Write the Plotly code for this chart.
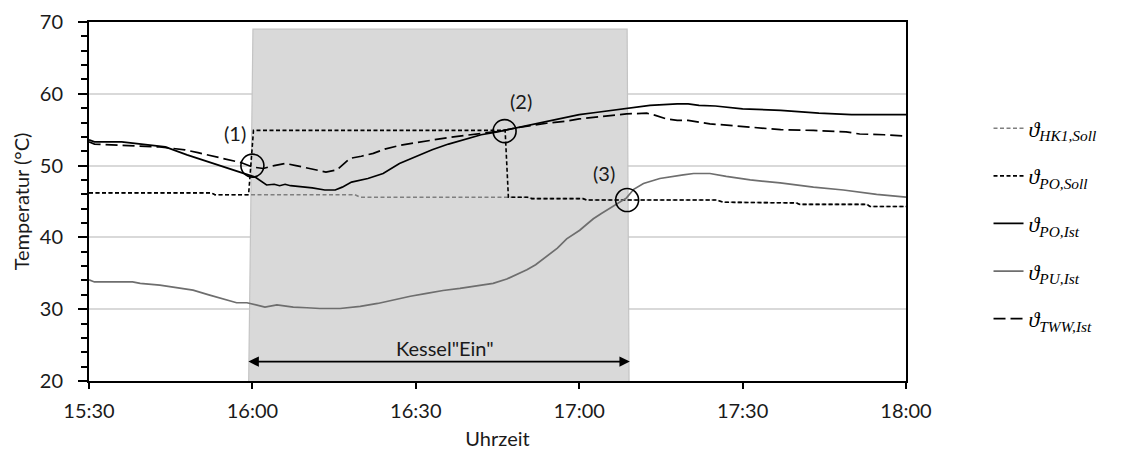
import pandas as pd
import plotly.graph_objects as go

# ---------------- data (minutes after 15:30, temperature in °C) ----------------
base = pd.Timestamp("2000-01-01 15:30")

# Kessel "Ein" (burner on) – area series, 0 = off, 69 = on
kessel_min = [0, 29.0, 30.1, 98.8, 99.3, 150]
kessel_val = [0, 0, 69, 69, 0, 0]

hk1_soll_min = [0, 22.5, 23.1, 48.8, 49.8, 77.0, 80.5, 81.3, 90.7, 91.4, 115.2, 116.5,
                129.9, 130.5, 142.8, 143.4, 150]
hk1_soll_val = [46.2, 46.2, 45.95, 45.95, 45.6, 45.6, 45.6, 45.4, 45.4, 45.2, 45.2, 44.9,
                44.8, 44.6, 44.6, 44.3, 44.3]

po_soll_min = [0, 22.5, 23.1, 29.3, 30.2, 76.4, 77.0, 80.5, 81.3, 90.7, 91.4, 115.2, 116.5,
               129.9, 130.5, 142.8, 143.4, 150]
po_soll_val = [46.2, 46.2, 45.95, 45.95, 54.9, 54.9, 45.6, 45.6, 45.4, 45.4, 45.2, 45.2, 44.9,
               44.8, 44.6, 44.6, 44.3, 44.3]

po_ist_min = [0, 1, 6, 10, 14, 18, 22, 26, 27.4, 29.3, 30.5, 32.6, 34, 35, 36, 37, 39, 41,
              43.3, 45.2, 46.5, 48.2, 51.2, 54, 57, 60, 63, 66, 69, 72, 75, 78, 81, 84, 87,
              90, 93, 96, 99, 103, 108, 110, 112, 115, 120, 127, 134, 140, 150]
po_ist_val = [53.6, 53.3, 53.3, 53.0, 52.6, 51.5, 50.5, 49.5, 49.1, 48.65, 48.4, 47.3, 47.4,
              47.2, 47.4, 47.2, 47.1, 46.9, 46.6, 46.6, 47.0, 47.7, 48.2, 48.9, 50.3, 51.3,
              52.2, 53.0, 53.7, 54.3, 54.7, 55.2, 55.7, 56.2, 56.6, 57.1, 57.4, 57.7, 57.9,
              58.4, 58.6, 58.6, 58.4, 58.3, 57.9, 57.7, 57.3, 57.1, 57.1]

pu_ist_min = [0, 1, 8, 9.4, 13, 16, 19.1, 22, 24.7, 27.1, 29, 32.3, 34.5, 37.5, 40, 42.4,
              46.1, 49.8, 53, 55.9, 59, 62, 65, 68.1, 71, 74.2, 76.7, 78.5, 80.4, 82, 84, 86,
              87.7, 90.1, 91.5, 92.6, 94, 96.3, 98.7, 100, 101.8, 104.8, 107, 109.1, 111,
              114, 117, 121.4, 126.9, 133, 138.5, 144.6, 150]
pu_ist_val = [34.1, 33.8, 33.8, 33.6, 33.35, 33.0, 32.65, 32.0, 31.4, 30.9, 30.9, 30.3, 30.6,
              30.3, 30.2, 30.1, 30.1, 30.4, 30.8, 31.3, 31.8, 32.2, 32.6, 32.9, 33.2, 33.6,
              34.2, 34.8, 35.5, 36.2, 37.4, 38.5, 39.8, 41.0, 41.9, 42.6, 43.3, 44.4, 45.5,
              46.7, 47.5, 48.2, 48.5, 48.7, 48.9, 48.9, 48.5, 48.0, 47.6, 47.0, 46.6, 46.0,
              45.6]

tww_ist_min = [0, 1, 13, 17.6, 20, 23.7, 26.5, 28, 30, 32, 34, 36, 38, 40, 43.5, 45.5, 47.9,
               50, 52.2, 54.3, 57, 60, 63, 66, 69, 72, 75.5, 78, 81.6, 84, 87.7, 90, 93.8, 96,
               98.7, 102.4, 104, 106, 108, 110, 114, 116, 121, 127, 133, 139, 141.5, 146, 150]
tww_ist_val = [53.3, 53.0, 52.6, 52.2, 51.8, 51.2, 50.7, 50.4, 49.8, 49.6, 50.0, 50.3, 50.0,
               49.7, 49.1, 49.4, 51.0, 51.3, 51.7, 52.3, 52.8, 53.2, 53.6, 53.9, 54.2, 54.5,
               54.8, 55.2, 55.6, 55.9, 56.2, 56.5, 56.8, 57.0, 57.2, 57.3, 57.0, 56.5, 56.3,
               56.3, 55.8, 55.7, 55.4, 55.0, 54.9, 54.7, 54.4, 54.3, 54.1]

# marked events (1), (2), (3)
event_min = [30.0, 76.3, 98.8]
event_val = [50.0, 54.8, 45.2]
event_lbl = ["(1)", "(2)", "(3)"]

tick_lbl = ["15:30", "16:00", "16:30", "17:00", "17:30", "18:00"]


def at(mins):
    return [base + pd.Timedelta(minutes=m) for m in mins]


FONT = "Lato, Open Sans, sans-serif"
TXT = "#1a1a1a"
fig = go.Figure()

# burner-on shading
fig.add_trace(go.Scatter(
    x=at(kessel_min), y=kessel_val, mode="lines", fill="tozeroy",
    fillcolor="#d9d9d9", line=dict(color="#c4c4c4", width=1.2),
    showlegend=False, hoverinfo="skip"))

series = [
    ("<i>ϑ</i><sub><i>HK1,Soll</i></sub>", hk1_soll_min, hk1_soll_val,
     dict(color="#7f7f7f", width=1.6, dash="4px,2.5px")),
    ("<i>ϑ</i><sub><i>PO,Soll</i></sub>", po_soll_min, po_soll_val,
     dict(color="#000000", width=1.6, dash="4px,2.5px")),
    ("<i>ϑ</i><sub><i>PO,Ist</i></sub>", po_ist_min, po_ist_val,
     dict(color="#000000", width=1.7)),
    ("<i>ϑ</i><sub><i>PU,Ist</i></sub>", pu_ist_min, pu_ist_val,
     dict(color="#6e6e6e", width=1.7)),
    ("<i>ϑ</i><sub><i>TWW,Ist</i></sub>", tww_ist_min, tww_ist_val,
     dict(color="#000000", width=1.7, dash="12px,5px")),
]
for i, (name, xm, yv, ln) in enumerate(series):
    fig.add_trace(go.Scatter(x=at(xm), y=yv, mode="lines", name=name, line=ln,
                             legendgroup=f"g{i}"))

# event circles
fig.add_trace(go.Scatter(
    x=at(event_min), y=event_val, mode="markers", showlegend=False,
    marker=dict(symbol="circle-open", size=23, color="black", line=dict(width=1.6))))

shifts = [(-17, 33), (16, 30), (-23, 27)]
annotations = []
for tm, v, lbl, (dx, dy) in zip(at(event_min), event_val, event_lbl, shifts):
    annotations.append(dict(x=tm, y=v, text=lbl, showarrow=False, xshift=dx, yshift=dy,
                            font=dict(family=FONT, size=20, color=TXT)))

# Kessel "Ein" double arrow, spanning the burner-on period
k_start = at([kessel_min[1]])[0]
k_end = at([kessel_min[4]])[0]
arrow_y = 22.7
annotations.append(dict(x=k_end, y=arrow_y, ax=k_start, ay=arrow_y, axref="x", ayref="y",
                        xref="x", yref="y", text="", showarrow=True, arrowhead=2,
                        arrowside="end+start", arrowsize=1.3, arrowwidth=1.6,
                        arrowcolor="black"))
k_mid = k_start + (k_end - k_start) / 2
annotations.append(dict(x=k_mid, y=arrow_y, text='Kessel"Ein"', showarrow=False,
                        xshift=7, yshift=14,
                        font=dict(family=FONT, size=20, color=TXT)))

fig.update_layout(
    width=1127, height=454,
    margin=dict(l=89, r=221, t=22, b=73),
    paper_bgcolor="white", plot_bgcolor="white",
    font=dict(family=FONT, size=20, color=TXT),
    showlegend=True,
    legend=dict(x=1.101, xanchor="left", y=0.762, yanchor="top",
                font=dict(family="Liberation Serif, DejaVu Serif, serif", size=22,
                          color="black"),
                tracegroupgap=16, bgcolor="rgba(0,0,0,0)"),
    annotations=annotations,
)

fig.update_xaxes(
    type="date", range=[base, base + pd.Timedelta(minutes=150)],
    tickmode="array", tickvals=at([0, 30, 60, 90, 120, 150]), ticktext=tick_lbl,
    ticks="outside", ticklen=6, tickwidth=1.5, tickcolor="black",
    ticklabelstandoff=5,
    showline=True, linecolor="black", linewidth=2, mirror=True,
    showgrid=False, zeroline=False,
    title=dict(text="Uhrzeit", standoff=11, font=dict(family=FONT, size=20, color=TXT)),
    tickfont=dict(family=FONT, size=20, color=TXT), automargin=False)

fig.update_yaxes(
    range=[20, 70], dtick=10, tick0=20,
    ticks="outside", ticklen=9, tickwidth=1.5, tickcolor="black",
    ticklabelstandoff=11,
    minor=dict(dtick=2, ticks="outside", ticklen=6, tickwidth=1.5, tickcolor="black",
               showgrid=False),
    showline=True, linecolor="black", linewidth=2, mirror=True,
    showgrid=True, gridcolor="#d9d9d9", gridwidth=1.5, zeroline=False,
    title=dict(text="Temperatur (°C)", standoff=5, font=dict(family=FONT, size=20, color=TXT)),
    tickfont=dict(family=FONT, size=20, color=TXT), automargin=False)

fig.write_html("out.html")
